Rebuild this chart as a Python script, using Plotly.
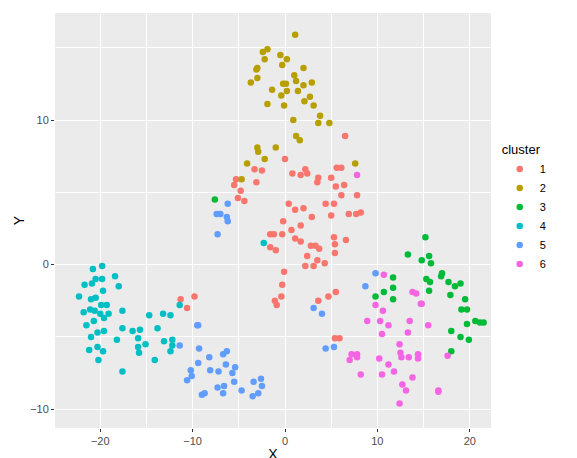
import plotly.graph_objects as go

c1x = [6.5,0.0,-3.3,-2.5,-5.3,-5.5,-4.8,-3.1,-5.1,-4.4,0.8,1.7,2.2,2.4,3.6,3.5,5.0,5.6,6.1,5.5,6.4,6.1,7.8,0.4,1.1,2.0,4.4,5.3,2.9,5.0,6.9,7.7,8.2,-0.2,1.7,0.7,-1.6,-1.2,-0.3,1.1,1.7,5.3,6.6,5.4,2.8,3.3,3.7,-1.6,-1.0,5.4,2.4,3.5,2.2,3.1,4.3,-0.1,-0.3,-0.4,-1.1,-0.9,-9.8,3.6,4.7,5.5,5.4,5.9,-11.3,-10.6]
c1y = [8.9,7.3,6.6,6.5,5.9,5.5,5.1,5.7,4.6,4.4,6.3,6.2,6.6,6.3,6.0,5.7,6.0,6.7,6.7,5.4,5.5,4.8,4.8,4.2,3.8,3.9,4.2,4.2,3.3,3.4,3.5,3.5,3.6,3.0,2.7,2.4,2.1,2.1,2.1,1.8,1.6,1.9,1.7,1.4,1.3,1.3,1.1,1.2,1.0,0.8,0.6,0.3,-0.1,-0.1,0.1,-0.5,-1.4,-2.2,-2.5,-2.8,-2.2,-2.5,-2.2,-1.9,-5.1,-5.1,-2.4,-3.0]

c2x = [1.1,-1.9,-2.4,-2.2,-0.5,0.2,-0.3,2.0,-3.1,-3.0,-3.0,-3.7,1.0,1.2,-0.2,0.1,2.0,2.9,-1.4,0.2,1.4,-0.4,2.7,2.1,-1.9,-0.1,3.1,3.8,0.9,3.6,4.8,1.2,1.6,-3.0,-2.9,-1.0,-2.2,-4.1,-4.7,7.6]
c2y = [15.9,14.9,14.7,14.2,14.5,14.2,13.8,13.6,13.5,13.6,12.9,12.6,13.1,12.7,12.5,12.5,12.4,12.6,12.1,12.0,12.0,11.7,11.6,11.3,11.1,11.0,11.0,10.3,10.0,9.8,9.8,8.9,8.6,8.1,7.8,8.1,7.3,7.0,5.9,7.0]

c3x = [-7.6,15.2,13.3,15.6,14.8,15.8,17.0,16.9,11.7,15.3,15.7,17.7,18.4,19.0,11.7,10.7,15.6,9.8,11.7,17.9,19.5,19.1,19.7,20.6,21.1,21.5,19.7,18.0,19.0,19.9,18.0]
c3y = [4.5,1.9,0.7,0.6,0.3,0.1,-0.6,-0.8,-0.9,-1.0,-1.2,-1.2,-1.5,-1.3,-1.6,-1.9,-1.8,-2.2,-2.4,-2.1,-2.4,-3.1,-3.1,-3.9,-4.0,-4.0,-4.1,-4.6,-5.0,-5.2,-6.0]

c4x = [-2.3,-19.8,-20.8,-20.5,-19.8,-18.4,-21.7,-20.9,-18.0,-19.7,-22.3,-21.0,-20.5,-19.9,-19.3,-21.1,-20.6,-21.8,-20.0,-19.1,-19.6,-17.6,-20.7,-21.5,-14.7,-13.2,-12.4,-11.4,-17.6,-16.5,-15.7,-13.8,-20.3,-19.6,-21.0,-18.2,-15.9,-13.1,-12.2,-12.2,-15.1,-20.3,-21.2,-19.7,-15.9,-15.8,-12.4,-20.2,-14.1,-17.6]
c4y = [1.5,-0.1,-0.3,-1.0,-1.0,-0.8,-1.4,-1.3,-1.5,-1.8,-2.2,-2.4,-2.3,-2.8,-2.8,-3.1,-3.2,-3.3,-3.4,-3.4,-3.7,-3.2,-3.9,-4.2,-3.5,-3.4,-3.5,-2.8,-4.4,-4.6,-4.5,-4.4,-4.7,-4.6,-5.0,-5.2,-5.1,-5.3,-5.2,-5.6,-5.5,-5.7,-5.9,-6.0,-5.7,-6.1,-6.0,-6.6,-6.6,-7.4]

c5x = [-6.2,-7.4,-7.0,-6.3,-6.2,-7.3,9.8,8.7,3.1,4.0,4.4,5.3,-9.5,-9.4,-11.4,-9.3,-8.2,-6.7,-6.3,-9.4,-6.4,-5.4,-8.1,-7.2,-5.7,-10.2,-10.1,-10.6,-5.5,-7.3,-6.6,-4.7,-3.4,-2.6,-2.5,-6.7,-9.0,-8.7,-2.9,-3.5]
c5y = [4.2,3.5,3.5,3.3,3.0,2.1,-0.6,-1.5,-3.0,-3.4,-5.8,-5.7,-4.2,-4.2,-5.6,-5.8,-6.4,-6.2,-6.0,-6.8,-6.9,-7.1,-7.3,-7.4,-7.5,-7.3,-7.7,-8.0,-8.1,-8.5,-8.4,-8.7,-8.1,-7.9,-8.4,-8.9,-9.0,-8.9,-8.9,-9.1]

c6x = [7.8,10.7,13.8,14.2,14.7,14.8,9.8,10.6,8.9,10.3,11.2,13.5,15.5,10.5,13.3,12.4,12.5,12.6,13.4,14.4,14.4,7.2,7.8,7.8,7.0,10.2,11.2,11.8,17.6,8.2,10.5,13.8,12.7,13.1,16.6,16.6,12.4]
c6y = [6.2,-0.7,-1.9,-2.0,-2.7,-2.7,-2.8,-3.2,-3.9,-3.9,-4.2,-3.9,-4.2,-4.8,-4.7,-5.5,-6.1,-6.4,-6.4,-6.2,-6.5,-6.2,-6.2,-6.4,-6.6,-6.5,-6.9,-7.4,-6.3,-7.6,-7.6,-7.8,-8.3,-8.7,-8.7,-8.8,-9.6]

names = ["1", "2", "3", "4", "5", "6"]
colors = ["#F8766D", "#B79F00", "#00BA38", "#00BFC4", "#619CFF", "#F564E3"]
xs = [c1x, c2x, c3x, c4x, c5x, c6x]
ys = [c1y, c2y, c3y, c4y, c5y, c6y]

fig = go.Figure()
for n, c, x, y in zip(names, colors, xs, ys):
    fig.add_trace(go.Scatter(x=x, y=y, mode="markers", name=n,
                             marker=dict(color=c, size=6.5, line=dict(width=0))))

ax = dict(showline=False, zeroline=False, gridcolor="white", gridwidth=1.1,
          ticks="outside", ticklen=3, tickcolor="#333333", automargin=False,
          tickfont=dict(family="Liberation Sans, Arial", size=11, color="#4D4D4D"),
          minor=dict(gridcolor="white", gridwidth=0.5, showgrid=True))
fig.update_xaxes(**ax, range=[-24.9, 22.3], tick0=0, dtick=10, minor_dtick=5,
                 title=dict(text="X", font=dict(family="Liberation Sans, Arial", size=14, color="black"), standoff=2))
fig.update_yaxes(**ax, range=[-11.3, 17.4], tick0=0, dtick=10, minor_dtick=5,
                 title=dict(text="Y", font=dict(family="Liberation Sans, Arial", size=14, color="black"), standoff=2))
fig.update_layout(
    width=577, height=458, margin=dict(l=47, r=94, t=5, b=38),
    plot_bgcolor="#EBEBEB", paper_bgcolor="white",
    legend=dict(title=dict(text="cluster", font=dict(size=13, color="black")),
                font=dict(family="Liberation Sans, Arial", size=11, color="black"),
                x=1.02, y=0.70, xanchor="left", yanchor="top", itemwidth=30,
                bgcolor="white"),
    font=dict(family="Liberation Sans, Arial"),
)
fig.write_html("out.html")
